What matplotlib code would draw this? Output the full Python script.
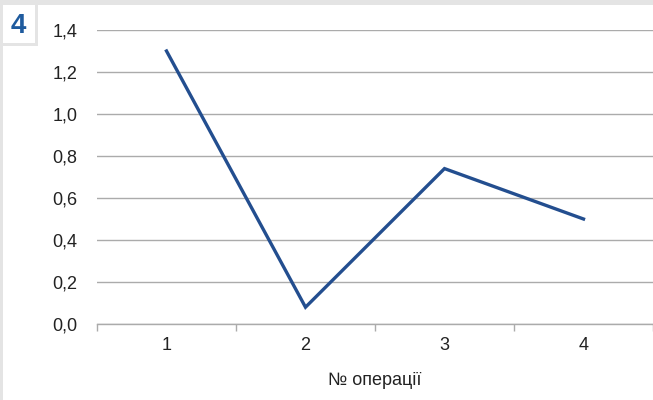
import matplotlib
matplotlib.use("Agg")
import matplotlib.pyplot as plt
from matplotlib.patches import Rectangle

# Values per operation
operations = [1, 2, 3, 4]
values = [1.3, 0.08, 0.74, 0.5]
y_ticks = [0.0, 0.2, 0.4, 0.6, 0.8, 1.0, 1.2, 1.4]
y_labels = ["0,0", "0,2", "0,4", "0,6", "0,8", "1,0", "1,2", "1,4"]
x_title = "№ операції"
badge = "4"

plt.rcParams["font.family"] = ["Liberation Sans", "DejaVu Sans"]

W, H = 653, 400
fig = plt.figure(figsize=(W / 100, H / 100), dpi=100, facecolor="white")

# light gray frame around the card and the number badge
frame = "#e4e4e4"
def px_rect(x0, y0, x1, y1):
    fig.patches.append(Rectangle((x0 / W, 1 - y1 / H), (x1 - x0) / W, (y1 - y0) / H,
                                 transform=fig.transFigure, facecolor=frame,
                                 edgecolor="none", zorder=0))
px_rect(0, 0, W, 5)
px_rect(0, 0, 3, H)
px_rect(35, 0, 38, 46)
px_rect(0, 43, 38, 46)
fig.text(18 / W, 1 - 26 / H, badge, ha="center", va="center", fontsize=20,
         fontweight="bold", color="#1f5b9e")

ax = fig.add_axes([97 / W, 1 - 324 / H, (W - 97) / W, (324 - 30) / H])
ax.plot(operations, values, color="#234e8f", linewidth=2.4, solid_joinstyle="miter")

ax.set_xlim(0.5, 4.5)
ax.set_ylim(0, 1.4)
ax.set_yticks(y_ticks)
ax.set_yticklabels(y_labels)
ax.set_xticks(operations)
ax.set_xticks([0.5, 1.5, 2.5, 3.5, 4.5], minor=True)
ax.grid(axis="y", color="#ababab", linewidth=1.0)
ax.set_axisbelow(True)

for side in ["top", "right", "left"]:
    ax.spines[side].set_visible(False)
ax.spines["bottom"].set_color("#ababab")
ax.spines["bottom"].set_linewidth(1.0)

ax.tick_params(axis="y", length=0, pad=14, labelsize=13, labelcolor="#222222")
ax.tick_params(axis="x", which="major", length=0, pad=9, labelsize=13,
               labelcolor="#222222")
ax.tick_params(axis="x", which="minor", length=5, color="#ababab", width=1)

ax.set_xlabel(x_title, fontsize=13, color="#222222", labelpad=13)

fig.savefig("out.png", dpi=100, facecolor="white")
